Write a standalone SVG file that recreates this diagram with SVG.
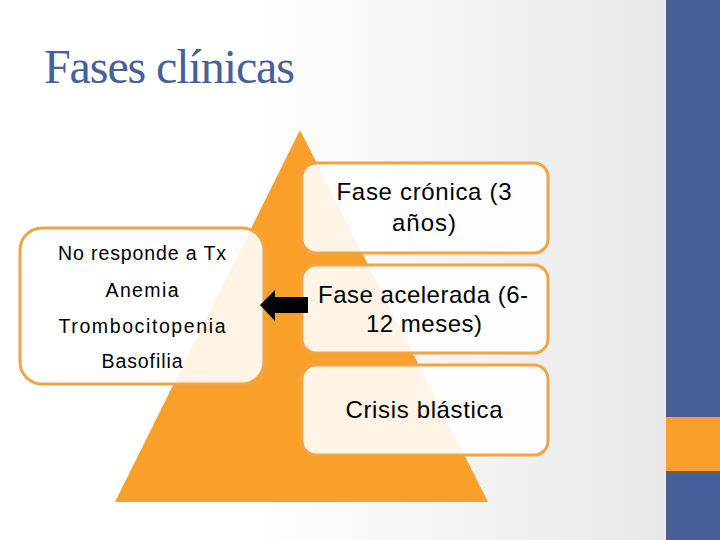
<svg xmlns="http://www.w3.org/2000/svg" width="720" height="540" viewBox="0 0 720 540">
  <defs>
    <linearGradient id="bg" x1="0" y1="0" x2="720" y2="0" gradientUnits="userSpaceOnUse">
      <stop offset="0.35" stop-color="#ffffff"/>
      <stop offset="0.92" stop-color="#e8e8e8"/>
    </linearGradient>
    <style>
      .box { fill: #ffffff; fill-opacity: 0.88; stroke: #f2a444; stroke-width: 3; }
      .lbl { font-family: "Liberation Sans", Arial, sans-serif; fill: #000000; text-anchor: middle; }
      .big { font-size: 24px; }
      .small { font-size: 19.5px; }
      .title { font-family: "Liberation Serif", "Times New Roman", serif; font-size: 48px; fill: #46609a; }
    </style>
  </defs>

  <rect x="0" y="0" width="720" height="540" fill="url(#bg)"/>
  <rect x="666" y="0" width="54" height="540" fill="#465e99"/>
  <rect x="666" y="417" width="54" height="54" fill="#f9a02a"/>
  <rect x="666" y="471" width="54" height="2" fill="#6e5c52"/>

  <text class="title" x="44" y="83" textLength="251">Fases clínicas</text>

  <polygon id="pyramid" points="300,130 115,502 488,502" fill="#f9a02a"/>

  <g id="left-box">
    <rect class="box" x="20" y="228" width="244" height="156" rx="22"/>
    <text class="lbl small" x="142" y="260" textLength="168">No responde a Tx</text>
    <text class="lbl small" x="142" y="297" textLength="73">Anemia</text>
    <text class="lbl small" x="142" y="333" textLength="167">Trombocitopenia</text>
    <text class="lbl small" x="142" y="368" textLength="81">Basofilia</text>
  </g>

  <g id="fase-cronica">
    <rect class="box" x="302" y="163" width="246" height="90" rx="14"/>
    <text class="lbl big" x="424" y="200" textLength="175">Fase crónica (3</text>
    <text class="lbl big" x="424" y="231" textLength="64">años)</text>
  </g>

  <g id="fase-acelerada">
    <rect class="box" x="302" y="265" width="246" height="88" rx="14"/>
    <text class="lbl big" x="423" y="303" textLength="210">Fase acelerada (6-</text>
    <text class="lbl big" x="424" y="332" textLength="116">12 meses)</text>
  </g>

  <g id="crisis-blastica">
    <rect class="box" x="302" y="365" width="246" height="90" rx="14"/>
    <text class="lbl big" x="424" y="418" textLength="157">Crisis blástica</text>
  </g>

  <g id="connectors">
    <polygon points="260,305 275,290 275,297 308,297 308,313 275,313 275,321" fill="#000000"/>
  </g>
</svg>
